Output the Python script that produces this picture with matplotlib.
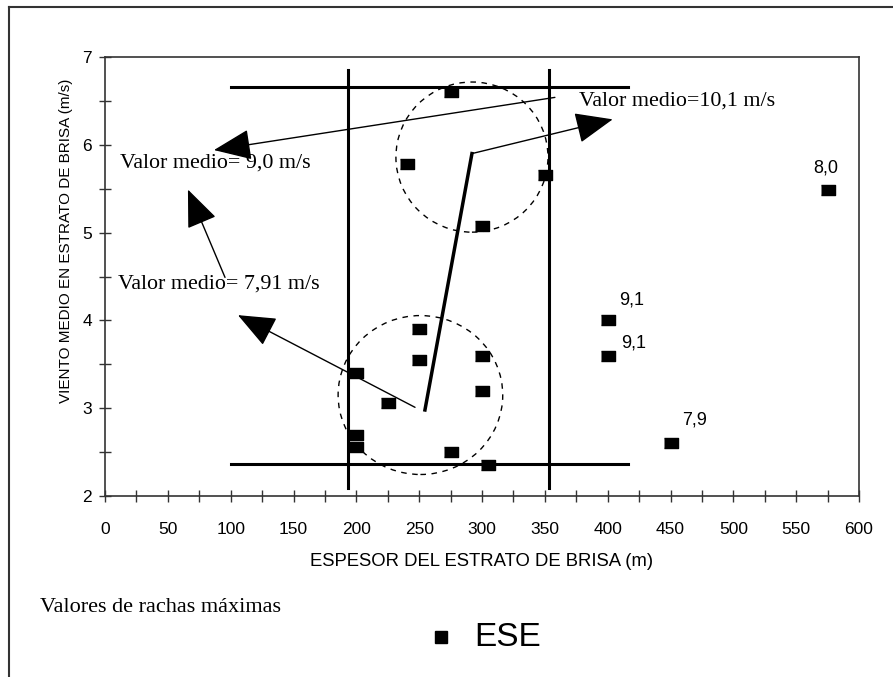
import matplotlib.pyplot as plt
from matplotlib.patches import Ellipse
from matplotlib.lines import Line2D

# espesor del estrato (m) y viento medio (m/s)
espesor = [275, 240, 300, 350, 575, 400, 400, 450, 250, 250, 300, 300, 200, 225, 200, 200, 275, 305]
viento = [6.60, 5.78, 5.08, 5.66, 5.49, 4.00, 3.60, 2.60, 3.90, 3.55, 3.60, 3.20, 3.40, 3.06, 2.70, 2.56, 2.50, 2.35]

# puntos etiquetados con su racha maxima
etiq_x = [575, 400, 400, 450]
etiq_y = [5.49, 4.00, 3.60, 2.60]
etiq_txt = ["8,0", "9,1", "9,1", "7,9"]
etiq_off = [(-2, 22), (24, 20), (26, 13), (24, 23)]

x_ticks = list(range(0, 601, 50))
y_ticks = [2, 3, 4, 5, 6, 7]

sans = ['Liberation Sans Narrow', 'Liberation Sans', 'DejaVu Sans']
serif = ['Liberation Serif', 'DejaVu Serif']

fig = plt.figure(figsize=(8.93, 6.77), dpi=100)
ax = fig.add_axes([105/893, 1-496/677, 754/893, 439/677])

marca = [(-1.3, -1), (1.3, -1), (1.3, 1), (-1.3, 1)]
ax.plot(espesor, viento, ls='none', marker=marca, ms=9.5, color='black')

for xx, yy, t, off in zip(etiq_x, etiq_y, etiq_txt, etiq_off):
    ax.annotate(t, (xx, yy), xytext=off, textcoords='offset pixels',
                ha='center', va='center', fontsize=13, family=sans)

# rectangulo de limites
ax.plot([193, 193], [2.09, 6.85], color='black', lw=2.2)
ax.plot([353, 353], [2.09, 6.85], color='black', lw=2.2)
ax.plot([100, 416], [6.66, 6.66], color='black', lw=2.2)
ax.plot([100, 416], [2.37, 2.37], color='black', lw=2.2)

# circulos de grupos
ax.add_patch(Ellipse((292, 5.86), 121, 1.71, fill=False, ls=(0, (4, 4)), lw=1))
ax.add_patch(Ellipse((251, 3.15), 131, 1.81, fill=False, ls=(0, (4, 4)), lw=1))

# linea gruesa y flechas
ax.plot([254.6, 292], [2.98, 5.90], color='black', lw=2.5)
flecha = dict(arrowstyle='-|>,head_length=1.7,head_width=0.7', color='black', lw=1,
              shrinkA=0, shrinkB=0, mutation_scale=14)
ax.annotate('', xy=(404, 6.29), xytext=(292, 5.90), arrowprops=flecha)
ax.annotate('', xy=(86.7, 5.94), xytext=(358, 6.54), arrowprops=flecha)
ax.annotate('', xy=(66, 5.49), xytext=(95.5, 4.49), arrowprops=flecha)
ax.annotate('', xy=(105.8, 4.06), xytext=(246.7, 3.01), arrowprops=flecha)

ax.text(12, 5.79, 'Valor medio= 9,0 m/s', fontsize=15.8, family=serif, va='center')
ax.text(377, 6.50, 'Valor medio=10,1 m/s', fontsize=15.8, family=serif, va='center')
ax.text(10, 4.41, 'Valor medio= 7,91 m/s', fontsize=15.8, family=serif, va='center')

ax.set_xlim(0, 600)
ax.set_ylim(2, 7)
ax.set_xticks(x_ticks)
ax.set_xticks(range(25, 600, 50), minor=True)
ax.set_yticks(y_ticks)
ax.set_yticks([2.5, 3.5, 4.5, 5.5, 6.5], minor=True)
ax.tick_params(which='both', direction='inout', length=9, width=1, color='#333333')
ax.tick_params(axis='x', pad=14)
ax.tick_params(axis='y', pad=5)
for lab in ax.get_xticklabels() + ax.get_yticklabels():
    lab.set_family(sans)
    lab.set_fontsize(12.5)
for s in ax.spines.values():
    s.set_color('#333333')
    s.set_linewidth(1.2)

fig.text(482/893, 1-561/677, 'ESPESOR DEL ESTRATO DE BRISA (m)', ha='center', va='center',
         fontsize=13.3, family=sans)
fig.text(66/893, 1-241/677, 'VIENTO MEDIO EN ESTRATO DE BRISA (m/s)', ha='center', va='center',
         rotation=90, fontsize=11, family=sans)

fig.text(40/893, 1-608/677, 'Valores de rachas máximas', ha='left', va='center',
         fontsize=16, family=serif)
fig.add_artist(Line2D([441/893], [1-637/677], marker='s', ms=8, color='black', ls='none'))
fig.text(474/893, 1-637/677, 'ESE', ha='left', va='center', fontsize=24, family=sans)

# marco exterior
fig.add_artist(Line2D([9/893, 9/893], [0, 1-7/677], color='#333333', lw=1.5))
fig.add_artist(Line2D([9/893, 1], [1-7/677, 1-7/677], color='#333333', lw=1.5))

fig.savefig('out.png', dpi=100)
